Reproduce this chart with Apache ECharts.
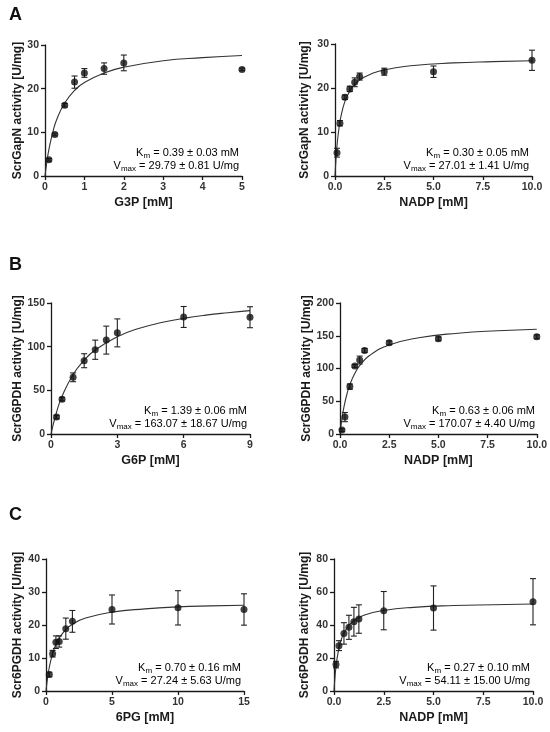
<!DOCTYPE html>
<html>
<head>
<meta charset="utf-8">
<script src="https://cdn.jsdelivr.net/npm/echarts@6/dist/echarts.min.js"></script>
<style>
  html, body { margin: 0; padding: 0; background: #fff; }
  #chart { width: 550px; height: 732px; }
</style>
</head>
<body>
<div id="chart"></div>
<script>
// --- measured points (mean, +/- error) ---
var g3pX    = [0.1, 0.25, 0.5, 0.75, 1, 1.5, 2, 5];
var g3pY    = [3.7, 9.5, 16.2, 21.5, 23.6, 24.6, 25.9, 24.4];
var g3pErr  = [0.3, 0.3, 0.4, 1.4, 1.0, 1.3, 1.8, 0.3];

var gapNadpX   = [0.1, 0.25, 0.5, 0.75, 1, 1.25, 2.5, 5, 10];
var gapNadpY   = [5.3, 12.0, 17.9, 19.8, 21.3, 22.6, 23.7, 23.7, 26.3];
var gapNadpErr = [1.0, 0.6, 0.5, 0.6, 1.0, 0.8, 0.8, 1.3, 2.3];

var g6pX   = [0.25, 0.5, 1, 1.5, 2, 2.5, 3, 6, 9];
var g6pY   = [19.4, 39.9, 64.9, 83.9, 96.5, 107.5, 115.8, 134, 133.7];
var g6pErr = [2, 2, 5, 8, 11, 16, 16, 12, 12];

var g6pdhNadpX   = [0.1, 0.25, 0.5, 0.75, 1, 1.25, 2.5, 5, 10];
var g6pdhNadpY   = [6, 25.8, 72.4, 103.8, 112.9, 127.6, 139.2, 145.3, 148.4];
var g6pdhNadpErr = [2, 7, 4, 2, 6, 3, 3, 3, 3];

var pg6X   = [0.25, 0.5, 0.75, 1, 1.5, 2, 5, 10, 15];
var pg6Y   = [5.0, 11.3, 14.8, 15.0, 18.9, 21.1, 24.7, 25.2, 24.7];
var pg6Err = [0.7, 1.0, 1.9, 1.7, 3.2, 3.3, 4.4, 5.2, 4.75];

var pgdhNadpX   = [0.1, 0.25, 0.5, 0.75, 1, 1.25, 2.5, 5, 10];
var pgdhNadpY   = [16, 27.5, 34.9, 38.6, 42.0, 43.6, 48.7, 50.3, 54.1];
var pgdhNadpErr = [2, 3, 6.5, 7.3, 8.7, 8.6, 11.6, 13.4, 14];

// --- fitted curves ---
var g3pFitX = [0, 0.05, 0.1, 0.2, 0.3, 0.5, 0.75, 1, 1.5, 2, 3, 4, 5];
var g3pFitY = [0, 3.4, 6.1, 10.1, 13.0, 16.7, 19.6, 21.4, 23.6, 24.9, 26.4, 27.1, 27.6];

var gapNadpFitX = [0, 0.05, 0.1, 0.2, 0.3, 0.5, 0.75, 1, 1.5, 2.5, 4, 6, 8, 10];
var gapNadpFitY = [0, 3.9, 6.8, 10.8, 13.5, 16.9, 19.3, 20.8, 22.5, 24.1, 25.1, 25.7, 26.0, 26.2];

var g6pFitX = [0, 0.25, 0.5, 1, 1.5, 2, 3, 4, 5, 6, 7, 8, 9];
var g6pFitY = [0, 24.9, 43.1, 68.2, 84.6, 96.2, 111.4, 121.0, 127.6, 132.4, 136.1, 138.9, 141.3];

var g6pdhNadpFitX = [0, 0.05, 0.1, 0.2, 0.35, 0.5, 0.75, 1, 1.5, 2.5, 4, 6, 8, 10];
var g6pdhNadpFitY = [0, 12.5, 23.3, 41.0, 60.7, 75.3, 92.4, 104.3, 119.8, 135.8, 146.9, 153.9, 157.7, 160.0];

var pg6FitX = [0, 0.1, 0.25, 0.5, 0.75, 1, 1.5, 2, 3, 5, 7.5, 10, 12.5, 15];
var pg6FitY = [0, 3.4, 7.2, 11.35, 14.1, 16.0, 18.6, 20.2, 22.1, 23.9, 24.9, 25.5, 25.8, 26.0];

var pgdhNadpFitX = [0, 0.05, 0.1, 0.2, 0.35, 0.5, 0.75, 1, 1.5, 2.5, 4, 6, 8, 10];
var pgdhNadpFitY = [0, 8.5, 14.6, 23.0, 30.5, 35.1, 39.8, 42.6, 45.9, 48.8, 50.7, 51.8, 52.3, 52.7];

// --- kinetic parameters (text) ---
var kmText   = ['0.39 ± 0.03 mM', '0.30 ± 0.05 mM', '1.39 ± 0.06 mM', '0.63 ± 0.06 mM', '0.70 ± 0.16 mM', '0.27 ± 0.10 mM'];
var vmaxText = ['29.79 ± 0.81 U/mg', '27.01 ± 1.41 U/mg', '163.07 ± 18.67 U/mg', '170.07 ± 4.40 U/mg', '27.24 ± 5.63 U/mg', '54.11 ± 15.00 U/mg'];

var xNames = ['G3P [mM]', 'NADP [mM]', 'G6P [mM]', 'NADP [mM]', '6PG [mM]', 'NADP [mM]'];
var yNames = ['ScrGapN activity [U/mg]', 'ScrGapN activity [U/mg]', 'ScrG6PDH activity [U/mg]', 'ScrG6PDH activity [U/mg]', 'Scr6PGDH activity [U/mg]', 'Scr6PGDH activity [U/mg]'];
var xMax = [5, 10, 9, 10, 15, 10];
var xStep = [1, 2.5, 3, 2.5, 5, 2.5];
var yMax = [30, 30, 150, 200, 40, 80];
var yStep = [10, 10, 50, 50, 10, 20];

var panelLetters = ['A', 'B', 'C'];

var pts = [
  [g3pX, g3pY, g3pErr], [gapNadpX, gapNadpY, gapNadpErr],
  [g6pX, g6pY, g6pErr], [g6pdhNadpX, g6pdhNadpY, g6pdhNadpErr],
  [pg6X, pg6Y, pg6Err], [pgdhNadpX, pgdhNadpY, pgdhNadpErr]
];
var fits = [
  [g3pFitX, g3pFitY], [gapNadpFitX, gapNadpFitY],
  [g6pFitX, g6pFitY], [g6pdhNadpFitX, g6pdhNadpFitY],
  [pg6FitX, pg6FitY], [pgdhNadpFitX, pgdhNadpFitY]
];

// layout of the six plot boxes
var boxes = [
  {left: 45, top: 45, width: 197, height: 131},
  {left: 335, top: 44, width: 197, height: 132},
  {left: 51, top: 303, width: 199, height: 131},
  {left: 340, top: 303, width: 198, height: 131},
  {left: 46, top: 559, width: 198, height: 132},
  {left: 334, top: 559, width: 199, height: 132}
];
var yNameGap = [21, 24, 27, 26, 22, 23];

var FONT = '"Liberation Sans", Arial, sans-serif';
var AX = '#1a1a1a';

var grid = [], xAxis = [], yAxis = [], series = [], graphic = [];

var rich = {
  t: {fontFamily: FONT, fontSize: 11, color: '#333'},
  s: {fontFamily: FONT, fontSize: 8, color: '#333', padding: [5, 0, 0, 0]}
};

for (var i = 0; i < 6; i++) {
  var b = boxes[i];
  grid.push({left: b.left, top: b.top, width: b.width, height: b.height, containLabel: false});
  var isNadp = xStep[i] === 2.5;
  xAxis.push({
    gridIndex: i, type: 'value', min: 0, max: xMax[i], interval: xStep[i],
    name: xNames[i], nameLocation: 'middle', nameGap: 20,
    nameTextStyle: {fontFamily: FONT, fontWeight: 'bold', fontSize: 12.5, color: AX},
    axisLine: {lineStyle: {color: AX, width: 1.3}},
    axisTick: {length: 4, lineStyle: {color: AX, width: 1.3}},
    axisLabel: {fontFamily: FONT, fontWeight: 'bold', fontSize: 10.5, color: '#333', margin: 6,
      formatter: isNadp ? function (v) { return v.toFixed(1); } : null},
    splitLine: {show: false}
  });
  yAxis.push({
    gridIndex: i, type: 'value', min: 0, max: yMax[i], interval: yStep[i],
    name: yNames[i], nameLocation: 'middle', nameGap: yNameGap[i],
    nameTextStyle: {fontFamily: FONT, fontWeight: 'bold', fontSize: 12, color: AX},
    axisLine: {show: true, lineStyle: {color: AX, width: 1.3}},
    axisTick: {show: true, length: 4, lineStyle: {color: AX, width: 1.3}},
    axisLabel: {fontFamily: FONT, fontWeight: 'bold', fontSize: 10.5, color: '#333', margin: 6},
    splitLine: {show: false}
  });

  var fitData = fits[i][0].map(function (x, k) { return [x, fits[i][1][k]]; });
  series.push({
    type: 'line', xAxisIndex: i, yAxisIndex: i, data: fitData,
    showSymbol: false, smooth: 0.5,
    lineStyle: {color: '#333', width: 1.1}, silent: true, z: 1
  });

  var p = pts[i];
  var errData = p[0].map(function (x, k) { return [x, p[1][k] - p[2][k], p[1][k] + p[2][k]]; });
  series.push({
    type: 'custom', xAxisIndex: i, yAxisIndex: i, data: errData, z: 2,
    encode: {x: 0, y: [1, 2]},
    renderItem: function (params, api) {
      var lo = api.coord([api.value(0), api.value(1)]);
      var hi = api.coord([api.value(0), api.value(2)]);
      var w = 3;
      var st = {stroke: '#222', lineWidth: 1.1};
      return {type: 'group', children: [
        {type: 'line', shape: {x1: lo[0], y1: lo[1], x2: hi[0], y2: hi[1]}, style: st},
        {type: 'line', shape: {x1: lo[0] - w, y1: lo[1], x2: lo[0] + w, y2: lo[1]}, style: st},
        {type: 'line', shape: {x1: hi[0] - w, y1: hi[1], x2: hi[0] + w, y2: hi[1]}, style: st}
      ]};
    }
  });

  series.push({
    type: 'scatter', xAxisIndex: i, yAxisIndex: i, z: 3,
    data: p[0].map(function (x, k) { return [x, p[1][k]]; }),
    symbol: 'circle', symbolSize: 7, itemStyle: {color: '#111'}
  });

  // Km / Vmax annotation
  var right = b.left + b.width - 3;
  var yKm = b.top + b.height - 23;
  graphic.push({type: 'text', style: {
    text: '{t|K}{s|m}{t| = ' + kmText[i] + '}', rich: rich, align: 'right', verticalAlign: 'middle',
    x: right, y: yKm
  }});
  graphic.push({type: 'text', style: {
    text: '{t|V}{s|max}{t| = ' + vmaxText[i] + '}', rich: rich, align: 'right', verticalAlign: 'middle',
    x: right, y: yKm + 13
  }});
}

// panel letters
var letterY = [15, 265, 515];
for (var r = 0; r < 3; r++) {
  graphic.push({type: 'text', style: {
    text: panelLetters[r], x: 9, y: letterY[r], verticalAlign: 'middle',
    font: 'bold 18px ' + FONT, fill: '#111'
  }});
}

var chart = echarts.init(document.getElementById('chart'), null, {renderer: 'canvas'});
chart.setOption({
  animation: false,
  backgroundColor: '#fff',
  grid: grid, xAxis: xAxis, yAxis: yAxis, series: series, graphic: graphic
});
</script>
</body>
</html>
